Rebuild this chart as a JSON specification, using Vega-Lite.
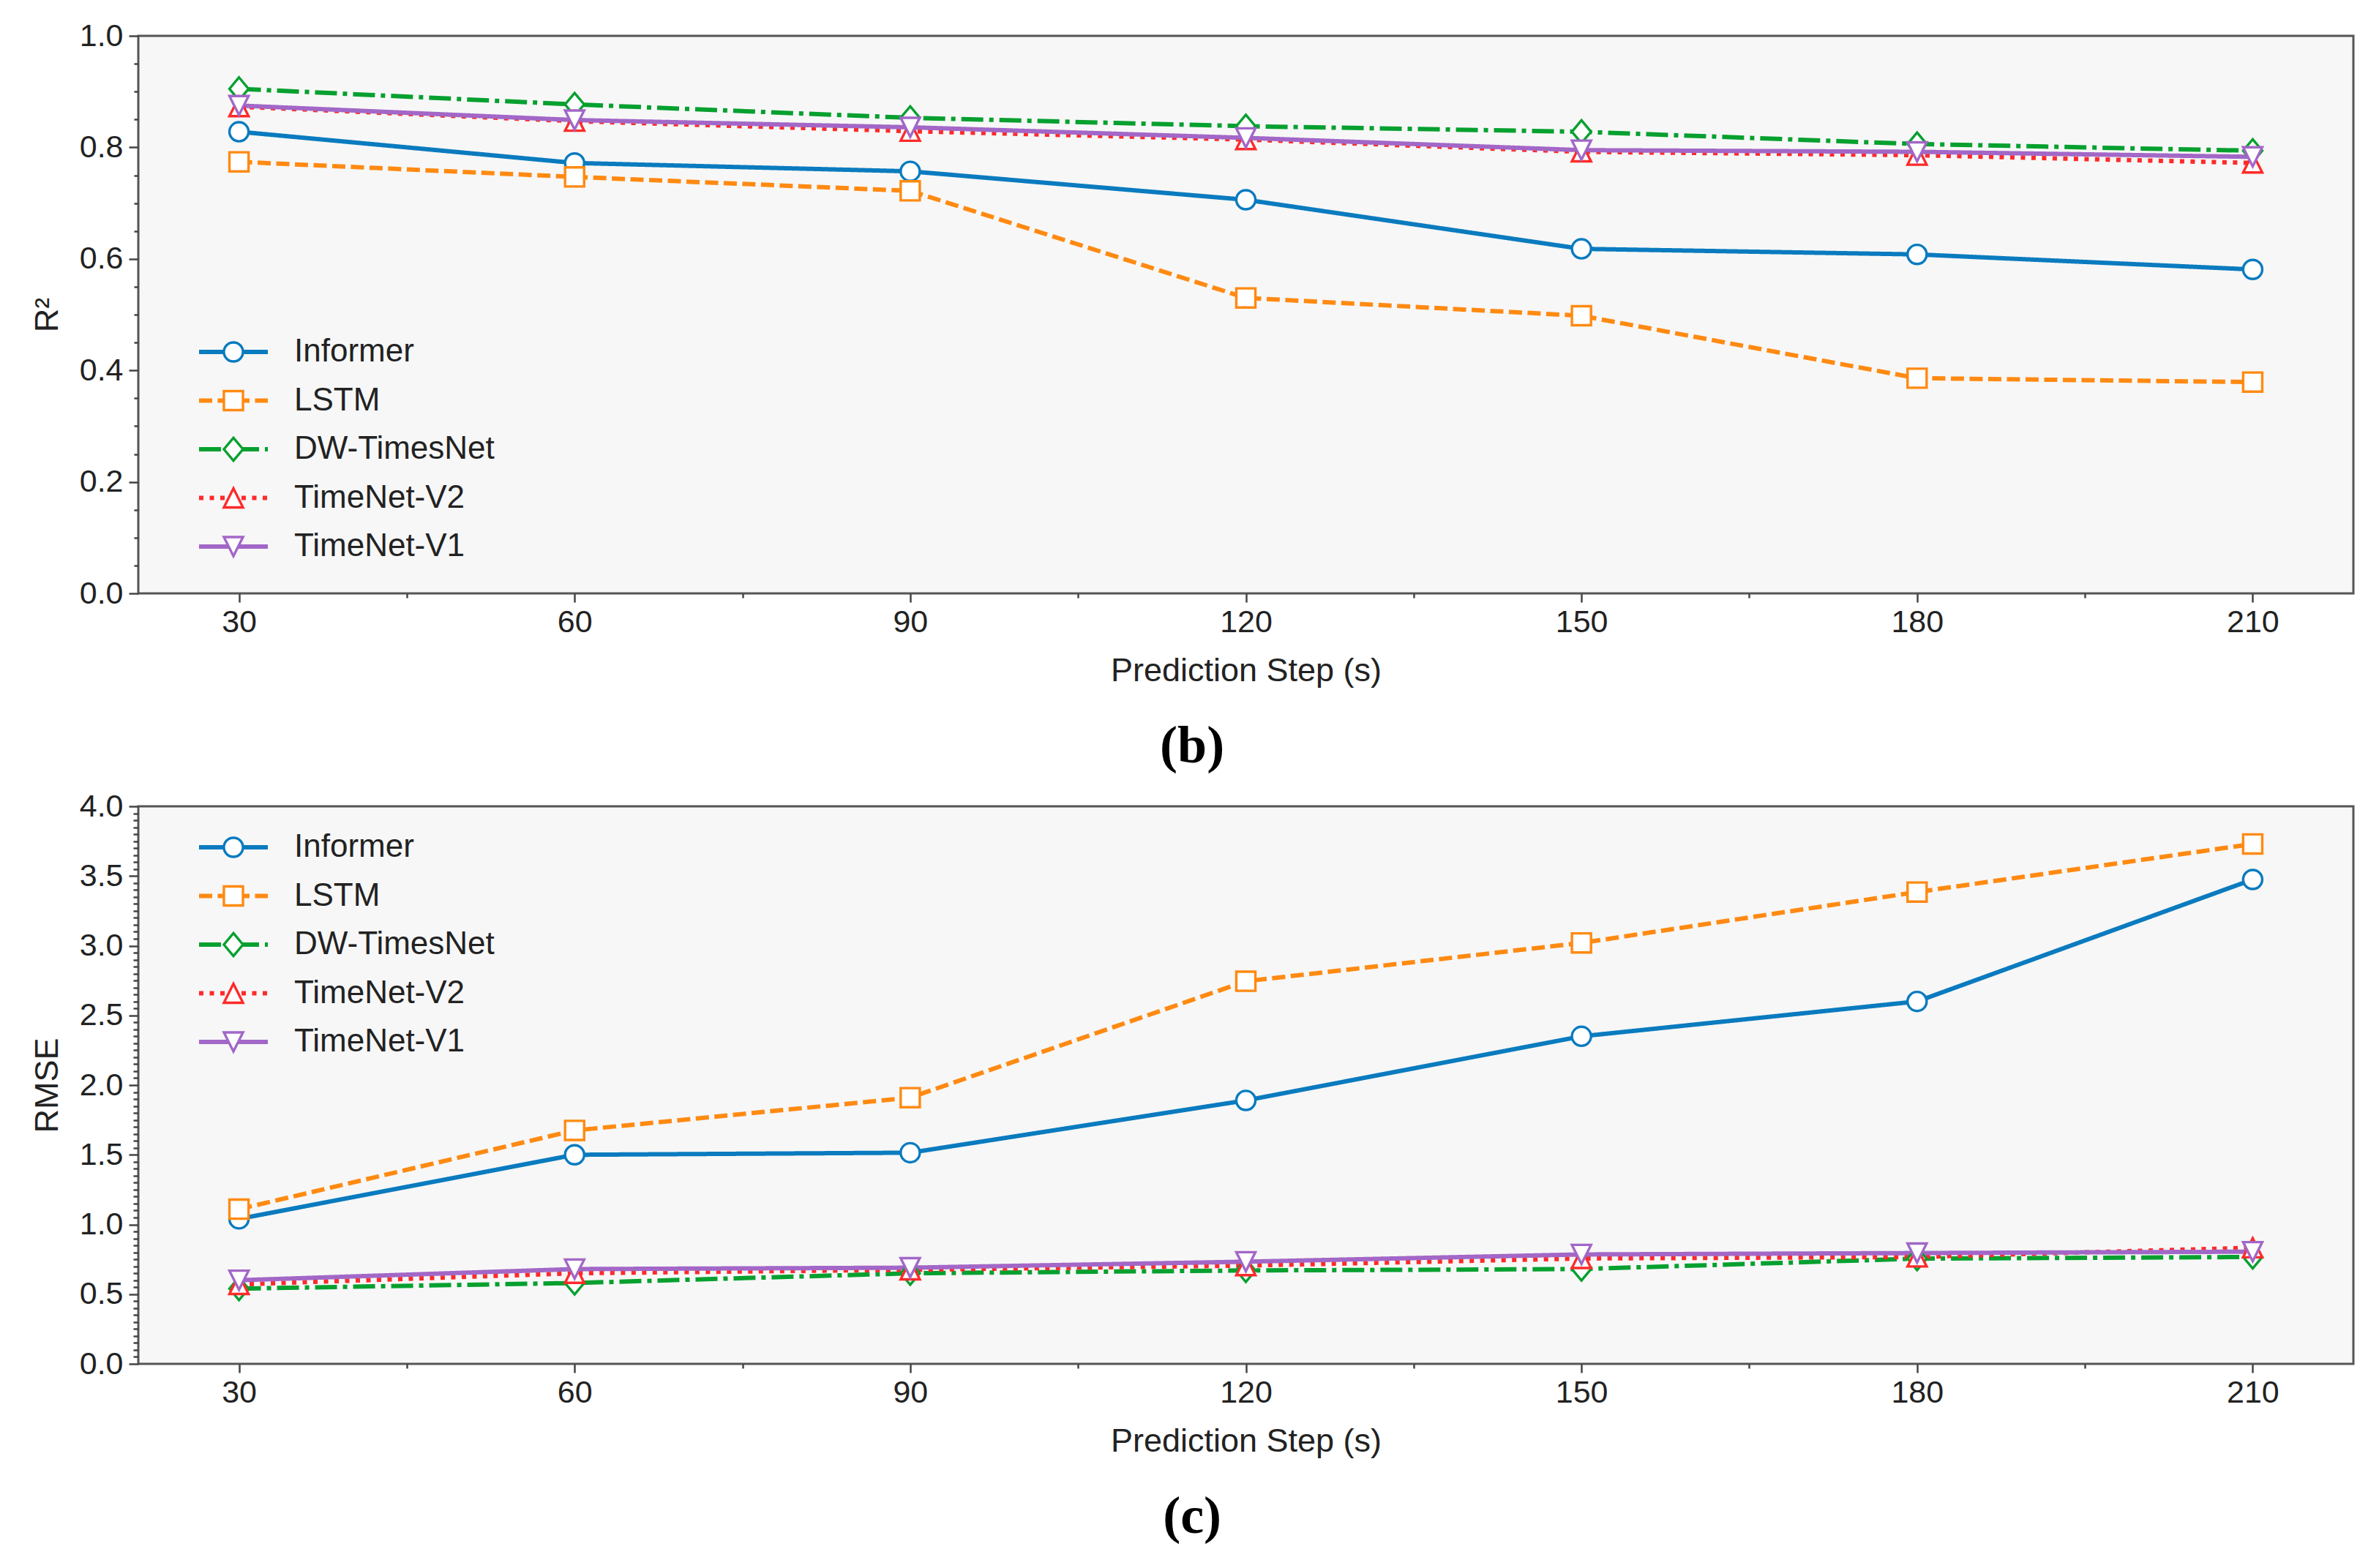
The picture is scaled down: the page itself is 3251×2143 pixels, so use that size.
{
  "$schema": "https://vega.github.io/schema/vega-lite/v6.json",
  "padding": {"top": 26, "left": 40, "right": 0, "bottom": 0},
  "background": "#ffffff",
  "datasets": {
    "r2": [
      {"step": 30, "model": "Informer", "value": 0.828},
      {"step": 60, "model": "Informer", "value": 0.772},
      {"step": 90, "model": "Informer", "value": 0.757},
      {"step": 120, "model": "Informer", "value": 0.706},
      {"step": 150, "model": "Informer", "value": 0.618},
      {"step": 180, "model": "Informer", "value": 0.608},
      {"step": 210, "model": "Informer", "value": 0.581},
      {"step": 30, "model": "LSTM", "value": 0.774},
      {"step": 60, "model": "LSTM", "value": 0.747},
      {"step": 90, "model": "LSTM", "value": 0.722},
      {"step": 120, "model": "LSTM", "value": 0.53},
      {"step": 150, "model": "LSTM", "value": 0.498},
      {"step": 180, "model": "LSTM", "value": 0.386},
      {"step": 210, "model": "LSTM", "value": 0.379},
      {"step": 30, "model": "DW-TimesNet", "value": 0.905},
      {"step": 60, "model": "DW-TimesNet", "value": 0.877},
      {"step": 90, "model": "DW-TimesNet", "value": 0.853},
      {"step": 120, "model": "DW-TimesNet", "value": 0.838},
      {"step": 150, "model": "DW-TimesNet", "value": 0.828},
      {"step": 180, "model": "DW-TimesNet", "value": 0.806},
      {"step": 210, "model": "DW-TimesNet", "value": 0.794},
      {"step": 30, "model": "TimeNet-V2", "value": 0.873},
      {"step": 60, "model": "TimeNet-V2", "value": 0.847},
      {"step": 90, "model": "TimeNet-V2", "value": 0.829},
      {"step": 120, "model": "TimeNet-V2", "value": 0.814},
      {"step": 150, "model": "TimeNet-V2", "value": 0.792},
      {"step": 180, "model": "TimeNet-V2", "value": 0.786},
      {"step": 210, "model": "TimeNet-V2", "value": 0.772},
      {"step": 30, "model": "TimeNet-V1", "value": 0.875},
      {"step": 60, "model": "TimeNet-V1", "value": 0.849},
      {"step": 90, "model": "TimeNet-V1", "value": 0.836},
      {"step": 120, "model": "TimeNet-V1", "value": 0.817},
      {"step": 150, "model": "TimeNet-V1", "value": 0.795},
      {"step": 180, "model": "TimeNet-V1", "value": 0.792},
      {"step": 210, "model": "TimeNet-V1", "value": 0.783}
    ],
    "rmse": [
      {"step": 30, "model": "Informer", "value": 1.04},
      {"step": 60, "model": "Informer", "value": 1.5},
      {"step": 90, "model": "Informer", "value": 1.515},
      {"step": 120, "model": "Informer", "value": 1.89},
      {"step": 150, "model": "Informer", "value": 2.35},
      {"step": 180, "model": "Informer", "value": 2.6},
      {"step": 210, "model": "Informer", "value": 3.475},
      {"step": 30, "model": "LSTM", "value": 1.11},
      {"step": 60, "model": "LSTM", "value": 1.675},
      {"step": 90, "model": "LSTM", "value": 1.91},
      {"step": 120, "model": "LSTM", "value": 2.745},
      {"step": 150, "model": "LSTM", "value": 3.02},
      {"step": 180, "model": "LSTM", "value": 3.385},
      {"step": 210, "model": "LSTM", "value": 3.73},
      {"step": 30, "model": "DW-TimesNet", "value": 0.54},
      {"step": 60, "model": "DW-TimesNet", "value": 0.58},
      {"step": 90, "model": "DW-TimesNet", "value": 0.65},
      {"step": 120, "model": "DW-TimesNet", "value": 0.67},
      {"step": 150, "model": "DW-TimesNet", "value": 0.68},
      {"step": 180, "model": "DW-TimesNet", "value": 0.755},
      {"step": 210, "model": "DW-TimesNet", "value": 0.767},
      {"step": 30, "model": "TimeNet-V2", "value": 0.57},
      {"step": 60, "model": "TimeNet-V2", "value": 0.65},
      {"step": 90, "model": "TimeNet-V2", "value": 0.675},
      {"step": 120, "model": "TimeNet-V2", "value": 0.705},
      {"step": 150, "model": "TimeNet-V2", "value": 0.756},
      {"step": 180, "model": "TimeNet-V2", "value": 0.767},
      {"step": 210, "model": "TimeNet-V2", "value": 0.833},
      {"step": 30, "model": "TimeNet-V1", "value": 0.6},
      {"step": 60, "model": "TimeNet-V1", "value": 0.68},
      {"step": 90, "model": "TimeNet-V1", "value": 0.69},
      {"step": 120, "model": "TimeNet-V1", "value": 0.733},
      {"step": 150, "model": "TimeNet-V1", "value": 0.785},
      {"step": 180, "model": "TimeNet-V1", "value": 0.795},
      {"step": 210, "model": "TimeNet-V1", "value": 0.805}
    ]
  },
  "vconcat": [
    {
      "data": {"name": "r2"},
      "width": 3027,
      "height": 762,
      "title": {"text": "(b)", "orient": "bottom", "offset": 46, "anchor": "middle", "frame": "bounds"},
      "layer": [
        {
          "mark": {"type": "line", "strokeWidth": 6, "strokeCap": "butt"},
          "encoding": {
            "x": {"field": "step", "type": "quantitative", "scale": {"domain": [21, 219], "nice": false, "zero": false},
              "axis": {"values": [30, 60, 90, 120, 150, 180, 210], "tickSize": 12, "labelPadding": 6, "title": "Prediction Step (s)", "titlePadding": 22}},
            "y": {"field": "value", "type": "quantitative", "scale": {"domain": [0, 1], "nice": false},
              "axis": {"values": [0, 0.2, 0.4, 0.6, 0.8, 1.0], "format": ".1f", "tickSize": 13, "labelPadding": 8, "title": "R²", "titlePadding": 21}},
            "color": {"field": "model", "type": "nominal",
              "scale": {"domain": ["Informer", "LSTM", "DW-TimesNet", "TimeNet-V2", "TimeNet-V1"], "range": ["#0a7bbf", "#ff8a12", "#06a02f", "#ff2a2a", "#a267c7"]},
              "legend": {"title": null, "orient": "none", "legendX": 80, "legendY": 409, "symbolType": "M-1,0H1", "symbolSize": 8836, "symbolStrokeWidth": 6, "clipHeight": 46, "rowPadding": 20.5, "labelOffset": 33, "padding": 0}},
            "strokeDash": {"field": "model", "type": "nominal",
              "scale": {"domain": ["Informer", "LSTM", "DW-TimesNet", "TimeNet-V2", "TimeNet-V1"], "range": [[1, 0], [18, 7.5], [30, 8, 6, 8], [6, 8.5], [1, 0]]},
              "legend": {"title": null, "orient": "none", "legendX": 80, "legendY": 409, "symbolType": "M-1,0H1", "symbolSize": 8836, "symbolStrokeWidth": 6, "clipHeight": 46, "rowPadding": 20.5, "labelOffset": 33, "padding": 0}}
          }
        },
        {
          "mark": {"type": "point", "filled": false, "fill": "#ffffff", "size": 680, "strokeWidth": 3.4, "opacity": 1},
          "encoding": {
            "x": {"field": "step", "type": "quantitative",
              "axis": {"orient": "bottom", "values": [45, 75, 105, 135, 165, 195], "tickSize": 6, "labels": false, "title": null}},
            "y": {"field": "value", "type": "quantitative",
              "axis": {"orient": "left", "values": [0.05, 0.1, 0.15, 0.25, 0.3, 0.35, 0.45, 0.5, 0.55, 0.65, 0.7, 0.75, 0.85, 0.9, 0.95], "tickSize": 6, "labels": false, "title": null}},
            "color": {"field": "model", "type": "nominal",
              "scale": {"domain": ["Informer", "LSTM", "DW-TimesNet", "TimeNet-V2", "TimeNet-V1"], "range": ["#0a7bbf", "#ff8a12", "#06a02f", "#ff2a2a", "#a267c7"]},
              "legend": {"title": null, "orient": "none", "legendX": 108, "legendY": 409, "symbolSize": 680, "symbolStrokeWidth": 3.4, "clipHeight": 46, "rowPadding": 20.5, "labelExpr": "''", "padding": 0}},
            "shape": {"field": "model", "type": "nominal",
              "scale": {"domain": ["Informer", "LSTM", "DW-TimesNet", "TimeNet-V2", "TimeNet-V1"], "range": ["circle", "square", "M0,-1.2L1,0L0,1.2L-1,0Z", "M0,-1L1,1L-1,1Z", "M0,1L1,-1L-1,-1Z"]},
              "legend": {"title": null, "orient": "none", "legendX": 108, "legendY": 409, "symbolSize": 680, "symbolStrokeWidth": 3.4, "clipHeight": 46, "rowPadding": 20.5, "labelExpr": "''", "padding": 0}}
          }
        }
      ],
      "resolve": {
        "axis": {"x": "independent", "y": "independent"},
        "legend": {"color": "independent", "strokeDash": "independent", "shape": "independent"}
      }
    },
    {
      "data": {"name": "rmse"},
      "width": 3027,
      "height": 762,
      "title": {"text": "(c)", "orient": "bottom", "offset": 46, "anchor": "middle", "frame": "bounds"},
      "layer": [
        {
          "mark": {"type": "line", "strokeWidth": 6, "strokeCap": "butt"},
          "encoding": {
            "x": {"field": "step", "type": "quantitative", "scale": {"domain": [21, 219], "nice": false, "zero": false},
              "axis": {"values": [30, 60, 90, 120, 150, 180, 210], "tickSize": 12, "labelPadding": 6, "title": "Prediction Step (s)", "titlePadding": 22}},
            "y": {"field": "value", "type": "quantitative", "scale": {"domain": [0, 4], "nice": false},
              "axis": {"values": [0, 0.5, 1, 1.5, 2, 2.5, 3, 3.5, 4], "format": ".1f", "tickSize": 13, "labelPadding": 8, "title": "RMSE", "titlePadding": 21}},
            "color": {"field": "model", "type": "nominal",
              "scale": {"domain": ["Informer", "LSTM", "DW-TimesNet", "TimeNet-V2", "TimeNet-V1"], "range": ["#0a7bbf", "#ff8a12", "#06a02f", "#ff2a2a", "#a267c7"]},
              "legend": {"title": null, "orient": "none", "legendX": 80, "legendY": 33, "symbolType": "M-1,0H1", "symbolSize": 8836, "symbolStrokeWidth": 6, "clipHeight": 46, "rowPadding": 20.5, "labelOffset": 33, "padding": 0}},
            "strokeDash": {"field": "model", "type": "nominal",
              "scale": {"domain": ["Informer", "LSTM", "DW-TimesNet", "TimeNet-V2", "TimeNet-V1"], "range": [[1, 0], [18, 7.5], [30, 8, 6, 8], [6, 8.5], [1, 0]]},
              "legend": {"title": null, "orient": "none", "legendX": 80, "legendY": 33, "symbolType": "M-1,0H1", "symbolSize": 8836, "symbolStrokeWidth": 6, "clipHeight": 46, "rowPadding": 20.5, "labelOffset": 33, "padding": 0}}
          }
        },
        {
          "mark": {"type": "point", "filled": false, "fill": "#ffffff", "size": 680, "strokeWidth": 3.4, "opacity": 1},
          "encoding": {
            "x": {"field": "step", "type": "quantitative",
              "axis": {"orient": "bottom", "values": [45, 75, 105, 135, 165, 195], "tickSize": 6, "labels": false, "title": null}},
            "y": {"field": "value", "type": "quantitative",
              "axis": {"orient": "left", "values": [0.05, 0.1, 0.15, 0.2, 0.25, 0.3, 0.35, 0.4, 0.45, 0.55, 0.6, 0.65, 0.7, 0.75, 0.8, 0.85, 0.9, 0.95, 1.05, 1.1, 1.15, 1.2, 1.25, 1.3, 1.35, 1.4, 1.45, 1.55, 1.6, 1.65, 1.7, 1.75, 1.8, 1.85, 1.9, 1.95, 2.05, 2.1, 2.15, 2.2, 2.25, 2.3, 2.35, 2.4, 2.45, 2.55, 2.6, 2.65, 2.7, 2.75, 2.8, 2.85, 2.9, 2.95, 3.05, 3.1, 3.15, 3.2, 3.25, 3.3, 3.35, 3.4, 3.45, 3.55, 3.6, 3.65, 3.7, 3.75, 3.8, 3.85, 3.9, 3.95], "tickSize": 7, "labels": false, "title": null}},
            "color": {"field": "model", "type": "nominal",
              "scale": {"domain": ["Informer", "LSTM", "DW-TimesNet", "TimeNet-V2", "TimeNet-V1"], "range": ["#0a7bbf", "#ff8a12", "#06a02f", "#ff2a2a", "#a267c7"]},
              "legend": {"title": null, "orient": "none", "legendX": 108, "legendY": 33, "symbolSize": 680, "symbolStrokeWidth": 3.4, "clipHeight": 46, "rowPadding": 20.5, "labelExpr": "''", "padding": 0}},
            "shape": {"field": "model", "type": "nominal",
              "scale": {"domain": ["Informer", "LSTM", "DW-TimesNet", "TimeNet-V2", "TimeNet-V1"], "range": ["circle", "square", "M0,-1.2L1,0L0,1.2L-1,0Z", "M0,-1L1,1L-1,1Z", "M0,1L1,-1L-1,-1Z"]},
              "legend": {"title": null, "orient": "none", "legendX": 108, "legendY": 33, "symbolSize": 680, "symbolStrokeWidth": 3.4, "clipHeight": 46, "rowPadding": 20.5, "labelExpr": "''", "padding": 0}}
          }
        }
      ],
      "resolve": {
        "axis": {"x": "independent", "y": "independent"},
        "legend": {"color": "independent", "strokeDash": "independent", "shape": "independent"}
      }
    }
  ],
  "spacing": 21,
  "resolve": {
    "scale": {"x": "independent", "y": "independent"},
    "legend": {"color": "independent", "shape": "independent", "strokeDash": "independent"}
  },
  "config": {
    "font": "Liberation Sans",
    "view": {"stroke": "#555555", "strokeWidth": 3, "fill": "#f7f7f7"},
    "axis": {
      "labelFont": "Liberation Sans", "labelFontSize": 43, "labelColor": "#222222",
      "titleFont": "Liberation Sans", "titleFontSize": 45, "titleFontWeight": "normal", "titleColor": "#222222",
      "grid": false, "domain": false, "tickColor": "#444444", "tickWidth": 2.5
    },
    "legend": {"labelFont": "Liberation Sans", "labelFontSize": 44, "labelColor": "#222222", "labelLimit": 0},
    "title": {"font": "Liberation Serif", "fontSize": 72, "fontWeight": "bold", "color": "#000000"}
  }
}
